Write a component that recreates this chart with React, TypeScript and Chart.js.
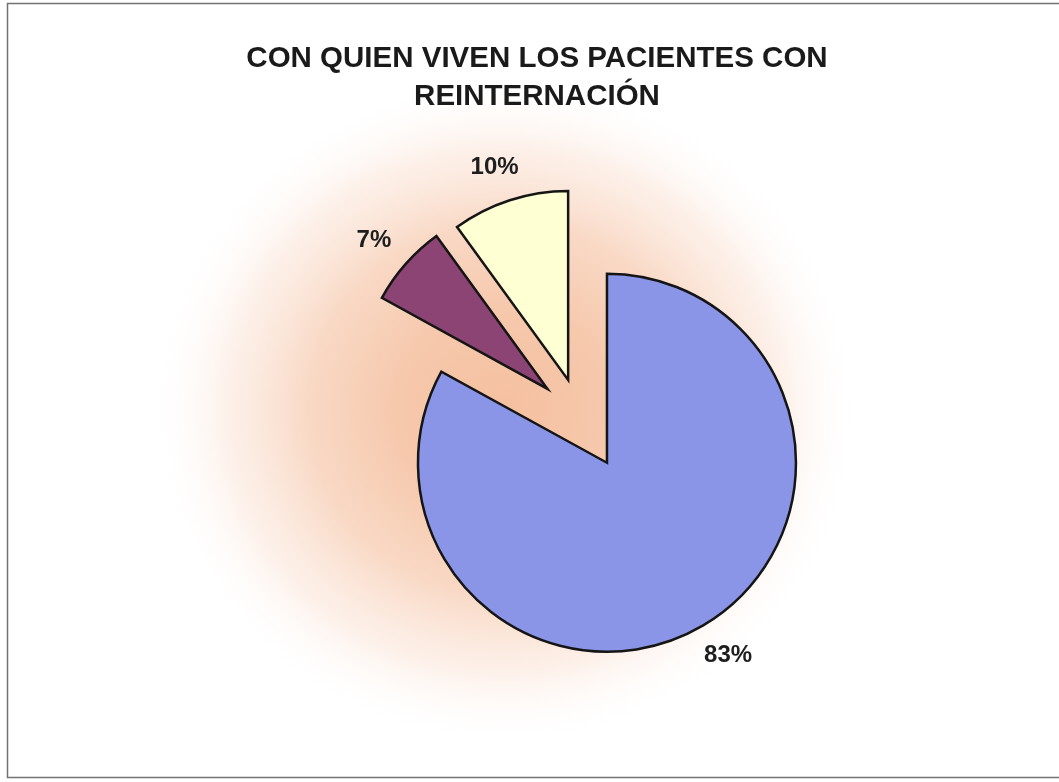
import React, { useEffect, useRef } from "react";
import { Chart, registerables } from "chart.js";

Chart.register(...registerables);

const TITLE_LINES = ["CON QUIEN VIVEN LOS PACIENTES CON", "REINTERNACIÓN"];
const CATEGORIES = ["Categoría 1", "Categoría 2", "Categoría 3"];
const PERCENTS = [83, 7, 10];

// styles
const COLORS = ["#8A95E8", "#8B4473", "#FFFFD4"];
const EXPLODE = [52, 44, 40];
const W = 1059;
const H = 782;

const backgroundPlugin = {
  id: "scanBackground",
  beforeDraw(chart: any) {
    const ctx = chart.ctx as CanvasRenderingContext2D;
    ctx.save();
    ctx.fillStyle = "#ffffff";
    ctx.fillRect(0, 0, W, H);
    const cx = 505;
    const cy = 410;
    const rx = 355;
    const ry = 335;
    ctx.translate(cx, cy);
    ctx.scale(1, ry / rx);
    const g = ctx.createRadialGradient(0, 0, 0, 0, 0, rx);
    g.addColorStop(0, "rgba(245,192,160,1)");
    g.addColorStop(0.3, "rgba(246,200,172,1)");
    g.addColorStop(0.55, "rgba(248,212,190,0.9)");
    g.addColorStop(0.78, "rgba(251,230,218,0.6)");
    g.addColorStop(1, "rgba(255,255,255,0)");
    ctx.fillStyle = g;
    ctx.fillRect(-rx, -rx, rx * 2, rx * 2);
    ctx.restore();

    // scanned frame
    ctx.save();
    ctx.strokeStyle = "rgba(90,90,90,0.85)";
    ctx.lineWidth = 1.5;
    ctx.beginPath();
    ctx.moveTo(W, 3.5);
    ctx.lineTo(7.5, 3.5);
    ctx.lineTo(7.5, 777.5);
    ctx.lineTo(W, 777.5);
    ctx.stroke();
    ctx.restore();
  },
};

const explodePlugin = {
  id: "explodedSlices",
  beforeDatasetDraw(chart: any, args: any) {
    const ctx = chart.ctx as CanvasRenderingContext2D;
    const meta = args.meta;
    meta.data.forEach((arc: any, i: number) => {
      const mid = (arc.startAngle + arc.endAngle) / 2;
      const e = EXPLODE[i] || 0;
      ctx.save();
      ctx.translate(Math.cos(mid) * e, Math.sin(mid) * e);
      arc.draw(ctx);
      ctx.restore();
    });
    return false;
  },
  afterDatasetsDraw(chart: any) {
    const ctx = chart.ctx as CanvasRenderingContext2D;
    const meta = chart.getDatasetMeta(0);
    ctx.save();
    ctx.fillStyle = "#1e1e1e";
    ctx.font = "bold 24px 'Liberation Sans', Arial, sans-serif";
    ctx.textAlign = "center";
    ctx.textBaseline = "middle";
    meta.data.forEach((arc: any, i: number) => {
      const mid = (arc.startAngle + arc.endAngle) / 2;
      const d = (EXPLODE[i] || 0) + arc.outerRadius + 25;
      const text = PERCENTS[i] + "%";
      const halfW = ctx.measureText(text).width / 2;
      const halfH = 10;
      const x = arc.x + Math.cos(mid) * (d + halfW);
      const y = arc.y + Math.sin(mid) * (d + halfH);
      ctx.fillText(text, x, y);
    });
    // title
    ctx.fillStyle = "#1a1a1a";
    ctx.font = "bold 29.5px 'Liberation Sans', Arial, sans-serif";
    ctx.fillText(TITLE_LINES[0], 537, 59);
    ctx.fillText(TITLE_LINES[1], 537, 97);
    ctx.restore();
  },
};

export default function App() {
  const ref = useRef<HTMLCanvasElement | null>(null);
  useEffect(() => {
    if (!ref.current) return;
    const chart = new Chart(ref.current, {
      type: "pie",
      data: {
        labels: CATEGORIES,
        datasets: [
          {
            data: PERCENTS,
            backgroundColor: COLORS,
            borderColor: "#151515",
            borderWidth: 2.5,
            borderJoinStyle: "miter",
          } as any,
        ],
      },
      options: {
        responsive: false,
        animation: false,
        radius: 189,
        layout: { padding: { left: 102, top: 54, right: 0, bottom: 0 } },
        plugins: {
          legend: { display: false },
          title: { display: false },
          tooltip: { enabled: false },
        },
        events: [],
      } as any,
      plugins: [backgroundPlugin, explodePlugin],
    });
    return () => chart.destroy();
  }, []);
  return (
    <div style={{ position: "fixed", left: 0, top: 0, width: W, height: H, background: "#fff" }}>
      <canvas ref={ref} width={W} height={H} style={{ width: W, height: H, display: "block" }} />
    </div>
  );
}
